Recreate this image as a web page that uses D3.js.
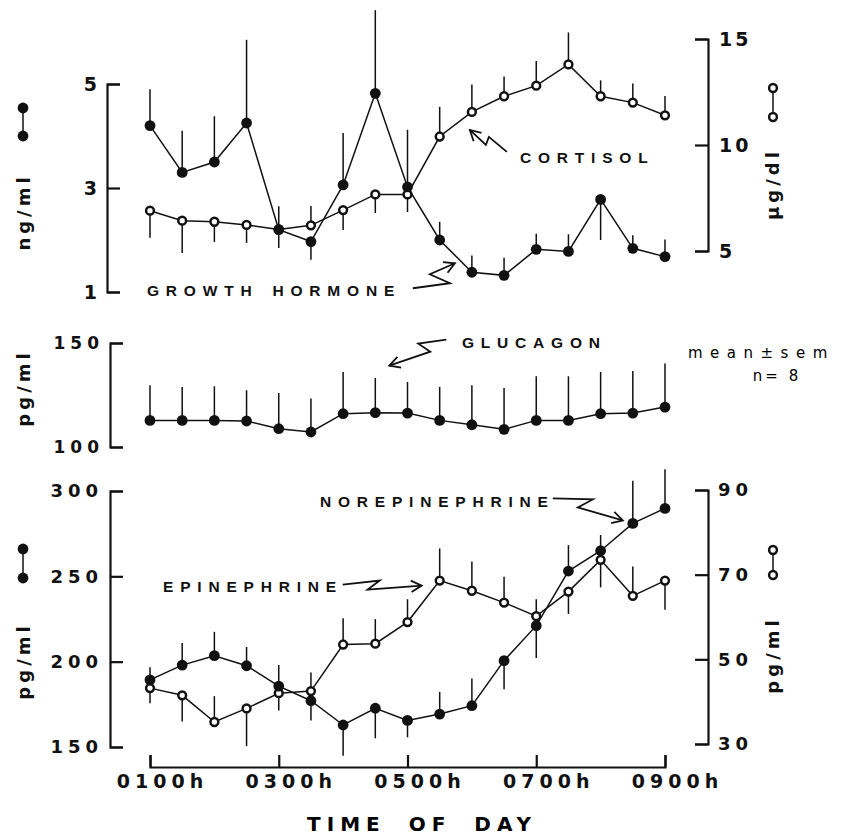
<!DOCTYPE html>
<html>
<head>
<meta charset="utf-8">
<script src="https://cdn.jsdelivr.net/npm/d3@7"></script>
<style>
body { margin: 0; background: #fff; }
svg { display: block; font-family: "DejaVu Sans", "Liberation Sans", Arial, sans-serif; }
.line { fill: none; stroke: #111; stroke-width: 1.5; }
.err { stroke: #111; stroke-width: 1.5; }
.dotF { fill: #111; }
.dotO { fill: #fff; stroke: #111; stroke-width: 2.5; }
.axis path, .axis line { stroke: #111; stroke-width: 2.2; fill: none; }
.axis text { fill: #111; font-weight: bold; }
.lab { font-family: "Liberation Sans", Arial, sans-serif; font-weight: bold; font-size: 15.5px; letter-spacing: 6.8px; fill: #111; }
.ttl { font-size: 18px; font-weight: bold; letter-spacing: 4px; fill: #111; }
.arr { fill: none; stroke: #111; stroke-width: 1.8; stroke-linejoin: miter; }
</style>
</head>
<body>
<div id="chart"></div>
<script>
// time points, hours (0100h .. 0900h every 30 min)
const times = [1, 1.5, 2, 2.5, 3, 3.5, 4, 4.5, 5, 5.5, 6, 6.5, 7, 7.5, 8, 8.5, 9];
const timeTicks = [1, 3, 5, 7, 9];

// growth hormone ng/ml (filled), sem and bar side (1 up, -1 down)
const ghMean = [4.2, 3.3, 3.5, 4.25, 2.2, 1.97, 3.06, 4.82, 3.02, 2.0, 1.38, 1.32, 1.82, 1.78, 2.78, 1.84, 1.68];
const ghSem  = [0.7, 0.8, 0.88, 1.6, 0.45, 0.35, 1.0, 1.6, 1.1, 0.35, 0.32, 0.34, 0.3, 0.33, 0.78, 0.25, 0.33];
const ghDir  = [1, 1, 1, 1, 1, -1, 1, 1, 1, 1, 1, 1, 1, 1, -1, 1, 1];

// cortisol ug/dl (open)
const cortMean = [6.9, 6.43, 6.38, 6.23, 6.02, 6.21, 6.93, 7.67, 7.67, 10.4, 11.56, 12.3, 12.8, 13.8, 12.3, 12.0, 11.4];
const cortSem  = [1.27, 1.52, 0.96, 0.85, 0.88, 0.91, 0.94, 0.88, 0.83, 1.4, 1.29, 0.93, 1.16, 1.51, 0.75, 0.9, 0.91];
const cortDir  = [-1, -1, -1, -1, -1, 1, -1, -1, -1, 1, 1, 1, 1, 1, 1, 1, 1];

// glucagon pg/ml
const gluMean = [112.8, 112.8, 112.8, 112.5, 108.8, 107.2, 116.0, 116.5, 116.3, 112.8, 110.7, 108.5, 112.8, 112.8, 116.0, 116.3, 119.2];
const gluSem  = [16.9, 16.1, 16.4, 14.8, 17.2, 16.1, 20.1, 16.7, 15.0, 16.1, 19.0, 19.9, 21.2, 21.2, 20.1, 20.2, 20.9];

// norepinephrine pg/ml (filled, left axis)
const neMean = [189.3, 198.0, 203.5, 197.6, 185.7, 177.1, 162.9, 172.7, 165.6, 169.3, 174.2, 200.6, 221.1, 253.1, 265.0, 281.0, 289.8];
const neSem  = [7.4, 13, 14, 11, 12.4, 11.5, 18, 17.6, 9.9, 13, 16, 16.8, 19, 15.2, 9.2, 25, 23];
const neDir  = [1, 1, 1, 1, 1, -1, -1, -1, -1, 1, 1, -1, -1, 1, 1, 1, 1];

// epinephrine pg/ml (open, right axis)
const epiMean = [43.2, 41.5, 35.2, 38.4, 42.0, 42.5, 53.5, 53.7, 58.8, 68.6, 66.2, 63.4, 60.2, 66.0, 73.5, 65.0, 68.6];
const epiSem  = [3.6, 6.2, 6.1, 8.9, 4.1, 4.4, 6.2, 5.8, 5.4, 7.6, 6.9, 6.1, 4.0, 5.3, 6.5, 6.9, 6.9];
const epiDir  = [-1, -1, 1, -1, -1, 1, 1, 1, 1, 1, 1, 1, 1, -1, -1, 1, -1];

const ghTicks = [1, 3, 5];
const cortTicks = [5, 10, 15];
const gluTicks = [100, 150];
const neTicks = [150, 200, 250, 300];
const epiTicks = [30, 50, 70, 90];

const svg = d3.select("#chart").append("svg")
    .attr("width", 841)
    .attr("height", 835);

const x = d3.scaleLinear().domain([1, 9]).range([150, 665]);

const ghY = d3.scaleLinear().domain([1, 5]).range([292, 84]);
const cortY = d3.scaleLinear().domain([5, 15]).range([251, 39]);
const gluY = d3.scaleLinear().domain([100, 150]).range([447, 343]);
const neY = d3.scaleLinear().domain([150, 300]).range([747, 491]);
const epiY = d3.scaleLinear().domain([30, 90]).range([744, 490]);

// axes: brackets with inward ticks
function yAxis(scale, xPos, ticks, side, size, ls, pad) {
    const ax = side === "left" ? d3.axisLeft(scale) : d3.axisRight(scale);
    const g = svg.append("g")
        .attr("class", "axis")
        .attr("transform", `translate(${xPos},0)`)
        .call(ax.tickValues(ticks).tickSize(-13).tickSizeOuter(-13).tickPadding(pad).tickFormat(d3.format("d")))
        .attr("font-family", null)
        .attr("font-size", null);
    g.selectAll("text")
        .style("font-size", size + "px")
        .style("letter-spacing", ls + "px");
}

yAxis(ghY, 107, ghTicks, "left", 19, 0, 10);
yAxis(cortY, 708, cortTicks, "right", 19, 3, 11);
yAxis(gluY, 110, gluTicks, "left", 17, 5, 6);
yAxis(neY, 110, neTicks, "left", 18, 5, 7);
yAxis(epiY, 708, epiTicks, "right", 18, 5, 10);

const xg = svg.append("g")
    .attr("class", "axis")
    .attr("transform", "translate(0,767)")
    .call(d3.axisBottom(x).tickValues(timeTicks).tickSize(-12).tickSizeOuter(-12).tickPadding(8)
        .tickFormat(d => "0" + d + "00h"))
    .attr("font-family", null)
    .attr("font-size", null);
xg.selectAll("text")
    .attr("dx", 12)
    .style("font-size", "19px")
    .style("letter-spacing", "5px");

// series
function rows(mean, sem, dir) {
    return times.map((t, i) => ({t: t, v: mean[i], e: sem[i], d: dir ? dir[i] : 1}));
}

const lineLayer = svg.append("g");
const dotLayer = svg.append("g");

function series(yScale, data, filled) {
    lineLayer.append("path")
        .datum(data)
        .attr("class", "line")
        .attr("d", d3.line().x(d => x(d.t)).y(d => yScale(d.v)));
    lineLayer.append("g")
        .selectAll("line")
        .data(data)
        .join("line")
        .attr("class", "err")
        .attr("x1", d => x(d.t))
        .attr("x2", d => x(d.t))
        .attr("y1", d => yScale(d.v))
        .attr("y2", d => yScale(d.v + d.d * d.e));
    dotLayer.append("g")
        .selectAll("circle")
        .data(data)
        .join("circle")
        .attr("class", filled ? "dotF" : "dotO")
        .attr("cx", d => x(d.t))
        .attr("cy", d => yScale(d.v))
        .attr("r", filled ? 5.4 : 3.9);
}

series(cortY, rows(cortMean, cortSem, cortDir), false);
series(ghY, rows(ghMean, ghSem, ghDir), true);
series(gluY, rows(gluMean, gluSem), true);
series(epiY, rows(epiMean, epiSem, epiDir), false);
series(neY, rows(neMean, neSem, neDir), true);

// zigzag arrows, offsets in px from a data point
function arrow(ax, ay, offs) {
    const pts = offs.map(o => [ax + o[0], ay + o[1]]);
    svg.append("path").attr("class", "arr").attr("d", d3.line()(pts));
    const [tx, ty] = pts[pts.length - 1];
    const [px, py] = pts[pts.length - 2];
    const a = Math.atan2(ty - py, tx - px);
    const head = [a + Math.PI - 0.5, a + Math.PI + 0.5].map(b => [tx + 12 * Math.cos(b), ty + 12 * Math.sin(b)]);
    svg.append("path").attr("class", "arr")
        .attr("d", d3.line()([head[0], [tx, ty], head[1]]));
}

arrow(x(times[10]), cortY(cortMean[10]), [[35, 40], [17, 25], [14, 33], [-2, 18]]);
arrow(x(times[10]), ghY(ghMean[10]), [[-59, 16], [-22, 11], [-42, 2], [-17, -9]]);
arrow(x(times[7]), gluY(gluMean[7]), [[71, -73], [43, -69], [55, -61], [14, -47]]);
arrow(x(times[9]), epiY(epiMean[9]), [[-97, 4], [-60, 0], [-72, 9], [-18, 5]]);
arrow(x(times[15]), neY(neMean[15]), [[-80, -25], [-40, -24], [-55, -16], [-10, -3]]);

// labels
const labels = [
    {t: "CORTISOL", x: 520, y: 163, ws: 0},
    {t: "GROWTH HORMONE", x: 147, y: 296, ws: 3},
    {t: "GLUCAGON", x: 462, y: 348, ws: 0},
    {t: "EPINEPHRINE", x: 163, y: 592, ws: 0},
    {t: "NOREPINEPHRINE", x: 320, y: 507, ws: 0}
];
svg.append("g").selectAll("text")
    .data(labels)
    .join("text")
    .attr("class", "lab")
    .attr("x", d => d.x)
    .attr("y", d => d.y)
    .style("word-spacing", d => d.ws + "px")
    .text(d => d.t);

svg.append("text").attr("x", 688).attr("y", 358)
    .style("font-size", "15px").style("letter-spacing", "7.5px").text("mean\u00b1sem");
svg.append("text").attr("x", 777).attr("y", 381).attr("text-anchor", "middle")
    .style("font-size", "15px").style("letter-spacing", "3px").text("n= 8");

// axis titles
function title(tx, ty, txt) {
    svg.append("text")
        .attr("class", "ttl")
        .attr("transform", `translate(${tx},${ty}) rotate(-90)`)
        .attr("text-anchor", "middle")
        .text(txt);
}
title(30, 212, "ng/ml");
title(779, 184, "\u00b5g/dl");
title(30, 388, "pg/ml");
title(30, 661, "pg/ml");
title(779, 655, "pg/ml");

// legend glyphs
function glyph(gx, y1, y2, filled) {
    const g = svg.append("g");
    g.append("line").attr("class", "err").attr("x1", gx).attr("x2", gx).attr("y1", y1).attr("y2", y2);
    g.selectAll("circle").data([y1, y2]).join("circle")
        .attr("class", filled ? "dotF" : "dotO")
        .attr("cx", gx).attr("cy", d => d)
        .attr("r", filled ? 5.4 : 3.9);
}
glyph(23, 108, 136, true);
glyph(773, 88, 117, false);
glyph(23, 549, 578, true);
glyph(773, 550, 575, false);

svg.append("text")
    .attr("x", 422)
    .attr("y", 831)
    .attr("text-anchor", "middle")
    .style("font-size", "20px")
    .style("font-weight", "bold")
    .style("letter-spacing", "6px")
    .style("word-spacing", "10px")
    .text("TIME OF DAY");
</script>
</body>
</html>
